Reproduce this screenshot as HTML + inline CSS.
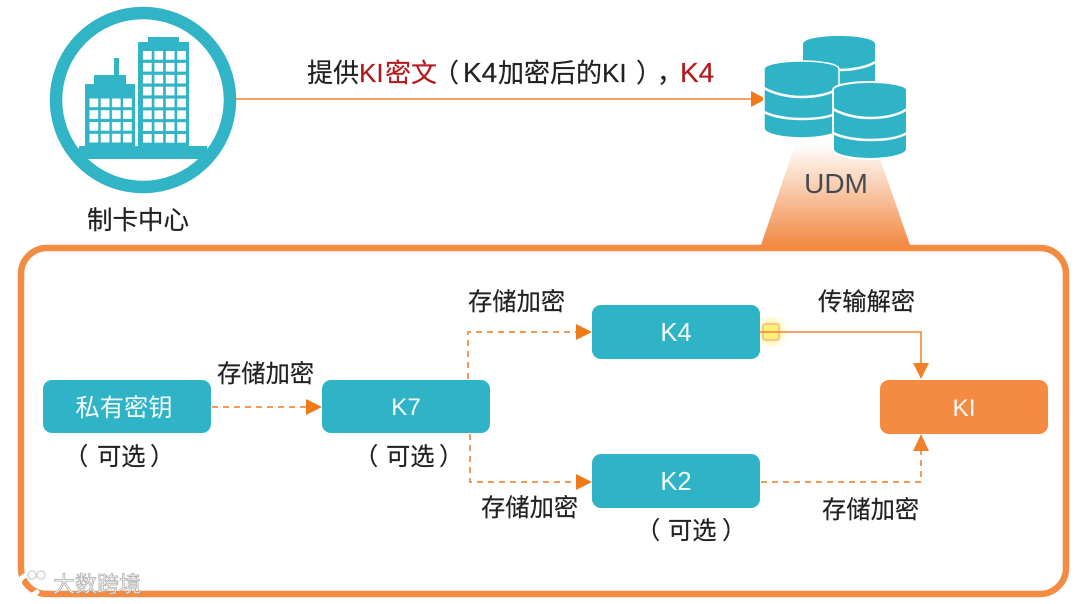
<!DOCTYPE html>
<html><head><meta charset="utf-8">
<style>
html,body{margin:0;padding:0;background:#fff;width:1080px;height:604px;overflow:hidden}
svg{display:block}
text{font-family:"Liberation Sans","Noto Sans CJK SC",sans-serif;font-size:24.3px;fill:#222;stroke:#222;stroke-width:.2px}
.w{fill:#f4fbfc;stroke:none}
.c{text-anchor:middle}
.t{font-size:26px}
.r{fill:#b5191c;stroke:#b5191c}
</style></head><body>
<svg width="1080" height="604" viewBox="0 0 1080 604" xmlns="http://www.w3.org/2000/svg">
<defs>
<linearGradient id="g" x1="0" y1="0" x2="0" y2="1"><stop offset="0.12" stop-color="#fff"/><stop offset="1" stop-color="#f28a45"/></linearGradient>
<radialGradient id="glow"><stop offset="0.4" stop-color="#fff27a"/><stop offset="1" stop-color="#fffbd0" stop-opacity="0"/></radialGradient>
</defs>
<rect width="1080" height="604" fill="#fff"/>

<!-- trapezoid -->
<polygon points="800,130 870,130 910,245 761,245" fill="url(#g)"/>
<!-- main frame -->
<rect x="21" y="248" width="1045" height="346" rx="26" fill="none" stroke="#f48b43" stroke-width="6.5"/>

<!-- city icon -->
<circle cx="143" cy="100" r="87" fill="#fff" stroke="#31b4c6" stroke-width="12.5"/>
<g fill="#31b4c6">
<rect x="85" y="84" width="50" height="64"/><rect x="94" y="75" width="32" height="10"/><rect x="114" y="58" width="5" height="18"/>
<rect x="138" y="42" width="51" height="106"/><rect x="148" y="37" width="31" height="6"/>
<path d="M79,146H207V159H79Z"/>
</g>
<g fill="#fff">
<rect x="89.5" y="98.500" width="8.700" height="8.700"/><rect x="100.700" y="98.500" width="8.700" height="8.700"/><rect x="111.900" y="98.500" width="8.700" height="8.700"/><rect x="123.100" y="98.500" width="8.700" height="8.700"/>
<rect x="89.5" y="110.200" width="8.700" height="8.700"/><rect x="100.700" y="110.200" width="8.700" height="8.700"/><rect x="111.900" y="110.200" width="8.700" height="8.700"/><rect x="123.100" y="110.200" width="8.700" height="8.700"/>
<rect x="89.5" y="122" width="8.700" height="8.700"/><rect x="100.700" y="122" width="8.700" height="8.700"/><rect x="111.900" y="122" width="8.700" height="8.700"/><rect x="123.100" y="122" width="8.700" height="8.700"/>
<rect x="89.5" y="133.800" width="8.700" height="8.700"/><rect x="100.700" y="133.800" width="8.700" height="8.700"/><rect x="111.900" y="133.800" width="8.700" height="8.700"/><rect x="123.100" y="133.800" width="8.700" height="8.700"/>
<rect x="143" y="51" width="8.700" height="8.700"/><rect x="154.400" y="51" width="8.700" height="8.700"/><rect x="165.800" y="51" width="8.700" height="8.700"/><rect x="177.200" y="51" width="8.700" height="8.700"/>
<rect x="143" y="62.900" width="8.700" height="8.700"/><rect x="154.400" y="62.900" width="8.700" height="8.700"/><rect x="165.800" y="62.900" width="8.700" height="8.700"/><rect x="177.200" y="62.900" width="8.700" height="8.700"/>
<rect x="143" y="74.800" width="8.700" height="8.700"/><rect x="154.400" y="74.800" width="8.700" height="8.700"/><rect x="165.800" y="74.800" width="8.700" height="8.700"/><rect x="177.200" y="74.800" width="8.700" height="8.700"/>
<rect x="143" y="86.700" width="8.700" height="8.700"/><rect x="154.400" y="86.700" width="8.700" height="8.700"/><rect x="165.800" y="86.700" width="8.700" height="8.700"/><rect x="177.200" y="86.700" width="8.700" height="8.700"/>
<rect x="143" y="98.600" width="8.700" height="8.700"/><rect x="154.400" y="98.600" width="8.700" height="8.700"/><rect x="165.800" y="98.600" width="8.700" height="8.700"/><rect x="177.200" y="98.600" width="8.700" height="8.700"/>
<rect x="143" y="110.400" width="8.700" height="8.700"/><rect x="154.400" y="110.400" width="8.700" height="8.700"/><rect x="165.800" y="110.400" width="8.700" height="8.700"/><rect x="177.200" y="110.400" width="8.700" height="8.700"/>
<rect x="143" y="122.200" width="8.700" height="8.700"/><rect x="154.400" y="122.200" width="8.700" height="8.700"/><rect x="165.800" y="122.200" width="8.700" height="8.700"/><rect x="177.200" y="122.200" width="8.700" height="8.700"/>
<rect x="143" y="134" width="8.700" height="8.700"/><rect x="154.400" y="134" width="8.700" height="8.700"/><rect x="165.800" y="134" width="8.700" height="8.700"/><rect x="177.200" y="134" width="8.700" height="8.700"/>
</g>

<text class="c" x="138" y="229" style="font-size:25.5px">制卡中心</text>

<!-- top arrow -->
<line x1="236" y1="99" x2="754" y2="99" stroke="#f0852f" stroke-width="1.6"/>
<polygon points="751,91 766,99 751,107" fill="#ef7a18"/>
<text class="t" x="307" y="82">提供</text>
<text class="t r" x="359" y="82">KI</text>
<text class="t r" x="385" y="82">密文</text>
<text class="t" x="433" y="82">（</text>
<text x="463" y="82" style="font-size:28px">K4</text>
<text class="t" x="498" y="82">加密后的</text>
<text class="t" x="602" y="82">KI</text>
<text class="t" x="636" y="82">）</text>
<text class="t" x="657" y="82">，</text>
<text class="r" x="680" y="82" style="font-size:28px">K4</text>

<!-- database back -->
<g transform="translate(803,36)">
<path d="M0,8C0,3 17,0 36,0C55,0 72,3 72,8V70H0Z" fill="#2fb3c6"/>
<path d="M0,26C10,32 25,34 36,34C50,34 65,31 72,26" fill="none" stroke="#fff" stroke-width="2.500"/>
</g>
<!-- database left -->
<g transform="translate(764,61)">
<path d="M0,8C0,3 18,0 37.500,0C57,0 75,3 75,8V67C75,73 57,77 37.500,77C18,77 0,73 0,67Z" fill="#2fb3c6" stroke="#fff" stroke-width="1.500"/>
<path d="M0,27C10,33 25,36 37.500,36C52,36 67,33 75,27M0,51C10,56 25,58 37.500,58C52,58 67,56 75,51" fill="none" stroke="#fff" stroke-width="2.500"/>
</g>
<!-- database right -->
<g transform="translate(833,82)">
<path d="M0,8C0,3 18,0 37,0C56,0 74,3 74,8V67C74,73 56,77 37,77C18,77 0,73 0,67Z" fill="#2fb3c6" stroke="#fff" stroke-width="2"/>
<path d="M0,27C10,33 25,36 37,36C52,36 66,33 74,27M0,51C10,56 25,58 37,58C52,58 66,56 74,51" fill="none" stroke="#fff" stroke-width="2.500"/>
</g>
<text class="c" x="836" y="193" style="font-size:28px;fill:#444b50;stroke:none">UDM</text>

<!-- dashed connectors -->
<g fill="none" stroke="#f39a58" stroke-width="2" stroke-dasharray="6 5">
<path d="M212,407H306"/>
<path d="M468,379V332H577"/>
<path d="M470,434V482H577"/>
<path d="M761,482H921V450"/>
</g>
<g fill="#ef7a18">
<polygon points="306,399 322,407 306,415"/>
<polygon points="576,324 592,332 576,340"/>
<polygon points="576,474 592,482 576,490"/>
</g>
<polygon points="913,451 921,434 929,451" fill="#f0802a"/>

<!-- solid connector -->
<circle cx="771" cy="332" r="18" fill="url(#glow)"/>
<rect x="763" y="324" width="16" height="16" rx="2" fill="#fff176" stroke="#f5b49a" stroke-width="1.500"/>
<path d="M760,332H921V363" fill="none" stroke="#f0853a" stroke-width="1.600"/>
<polygon points="913,363 929,363 921,379" fill="#f0802a"/>

<!-- nodes -->
<rect x="43" y="380" width="168" height="53" rx="9" fill="#2fb3c6"/>
<rect x="322" y="380" width="168" height="53" rx="9" fill="#2fb3c6"/>
<rect x="592" y="305" width="168" height="54" rx="9" fill="#2fb3c6"/>
<rect x="592" y="454" width="168" height="54" rx="9" fill="#2fb3c6"/>
<rect x="880" y="380" width="168" height="54" rx="9" fill="#f58a42"/>
<text class="c w" x="124" y="416">私有密钥</text>
<text class="c w" x="406" y="415">K7</text>
<text class="c w" x="676" y="341" style="font-size:25.500px">K4</text>
<text class="c w" x="676" y="490" style="font-size:25.500px">K2</text>
<text class="c w" x="964" y="416">KI</text>

<!-- labels -->
<text x="468" y="310">存储加密</text>
<text x="217" y="382">存储加密</text>
<text x="481" y="516">存储加密</text>
<text x="822" y="518">存储加密</text>
<text x="818" y="310">传输解密</text>
<text x="64" y="465">（</text><text x="97" y="465">可选</text><text x="150" y="465">）</text>
<text x="354" y="465">（</text><text x="386" y="465">可选</text><text x="439" y="465">）</text>
<text x="636" y="539">（</text><text x="668" y="539">可选</text><text x="722" y="539">）</text>

<!-- watermark -->
<g fill="none" stroke="#fff" stroke-linecap="round">
<path d="M13,576V592" stroke-width="5"/>
<path d="M26,575C17,580 16,589 23,594C28,597 34,595 37,592" stroke-width="5"/>
</g>
<g fill="none" stroke="#d6d6d6" stroke-width="1.500">
<circle cx="32" cy="575" r="4"/><circle cx="41" cy="575" r="4"/>
</g>
<text x="53" y="592" style="font-size:22px;fill:#fafafa;stroke:#aaa;stroke-width:.7px">大数跨境</text>
</svg>
</body></html>
